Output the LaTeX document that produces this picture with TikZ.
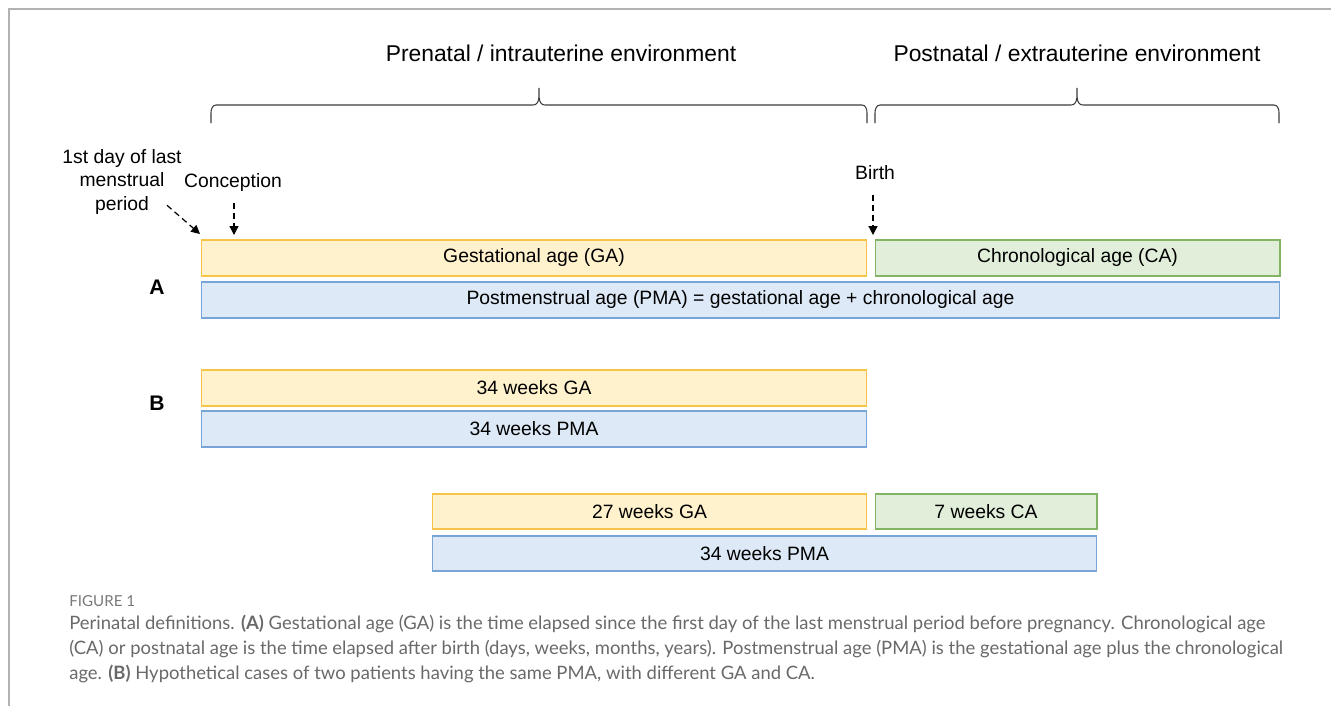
\documentclass[tikz,border=0pt]{standalone}
\usepackage{fontspec}
\setmainfont{Liberation Sans}
\newfontfamily\capfont{Lato}
\usetikzlibrary{arrows.meta, positioning}
\definecolor{gafill}{RGB}{255,242,204}
\definecolor{gadraw}{RGB}{246,196,70}
\definecolor{cafill}{RGB}{225,238,218}
\definecolor{cadraw}{RGB}{130,180,100}
\definecolor{pmafill}{RGB}{221,233,246}
\definecolor{pmadraw}{RGB}{120,164,214}
\definecolor{framegray}{RGB}{178,178,178}
\definecolor{capgray}{RGB}{105,105,105}
\definecolor{bracegray}{RGB}{60,60,60}
\tikzset{
  agebox/.style={rectangle, inner sep=0pt, outer sep=0pt,
    minimum height=0.72cm, line width=0.6pt,
    font=\fontsize{11}{13}\selectfont},
  gabox/.style={agebox, draw=gadraw, fill=gafill},
  cabox/.style={agebox, draw=cadraw, fill=cafill},
  pmabox/.style={agebox, draw=pmadraw, fill=pmafill},
  label/.style={font=\fontsize{11}{13.6}\selectfont, align=center, inner sep=0pt},
  envtitle/.style={font=\fontsize{13}{15}\selectfont, inner sep=0pt},
  caselabel/.style={font=\fontsize{12}{14}\selectfont\bfseries, inner sep=0pt},
  dasharrow/.style={-{Triangle[length=5pt,width=5pt]}, dash pattern=on 3.4pt off 2.3pt, line width=0.7pt},
  envbrace/.style={line width=0.6pt, color=bracegray}
}
% curly brace: left end, tip, right end (x), ends at y=123
\newcommand\envbrace[3]{%
  \draw[envbrace] (#1,123) -- (#1,113) to[out=90,in=180] ({#1+5},105)
    -- ({#2-6},105) to[out=0,in=-90] (#2,88) to[out=-90,in=180] ({#2+6},105)
    -- ({#3-5},105) to[out=0,in=90] (#3,113) -- (#3,123);}

\begin{document}
\begin{tikzpicture}[x=0.02cm, y=-0.02cm]
  \useasboundingbox (0,0) rectangle (1331,706);
  \draw[framegray, line width=0.9pt] (9,706) -- (9,9) -- (1331,9);

  % environments
  \node[envtitle] (pre) at (561,53) {Prenatal / intrauterine environment};
  \node[envtitle] (post) at (1077,53) {Postnatal / extrauterine environment};
  \envbrace{211}{539}{867}
  \envbrace{875}{1077}{1279}

  % (A)
  \node[caselabel] (lbla) at (157,287) {A};
  \node[gabox, minimum width=13.32cm] (gaa) at (534,258) {Gestational age (GA)};
  \node[cabox, minimum width=8.10cm] (caa) at (1077.5,258) {Chronological age (CA)};
  \node[pmabox, minimum width=21.58cm] (pmaa) at (740.5,300)
    {Postmenstrual age (PMA) = gestational age + chronological age};

  \node[label] (lmp) at (122,182) {1st day of last\\menstrual\\period};
  \node[label] (conc) at (233,183) {Conception};
  \node[label] (birth) at (875,173) {Birth};
  \coordinate (lmpend) at (200,234);
  \draw[dasharrow] ([xshift=-0.3cm, yshift=0.2cm]lmp.south east) -- (lmpend);
  \draw[dasharrow] ([xshift=0.02cm, yshift=-0.22cm]conc.south) -- ([xshift=0.02cm, yshift=0.1cm]conc.south |- gaa.north);
  \draw[dasharrow] ([xshift=-0.04cm, yshift=-0.3cm]birth.south) -- ([xshift=-0.04cm, yshift=0.1cm]birth.south |- gaa.north);

  % (B)
  \node[caselabel] (lblb) at (157,403) {B};
  \node[gabox, minimum width=13.32cm] (gab) at (534,388) {34 weeks GA};
  \node[pmabox, minimum width=13.32cm] (pmab) at (534,429) {34 weeks PMA};

  \node[gabox, minimum width=8.70cm, minimum height=0.70cm] (gac) at (649.5,511.5) {27 weeks GA};
  \node[cabox, minimum width=4.44cm, minimum height=0.70cm] (cac) at (986,511.5) {7 weeks CA};
  \node[pmabox, minimum width=13.30cm, minimum height=0.70cm] (pmac) at (764.5,553.5) {34 weeks PMA};

  % caption
  \node[anchor=west, inner sep=0pt, text=capgray!90, font=\capfont\fontsize{8.6}{10}\selectfont] (fig) at (69,601) {FIGURE 1};
  \node[anchor=north west, inner sep=0pt, align=left, text=capgray,
    font=\capfont\fontsize{10.5}{14}\selectfont] (capt) at (69,615)
    {Perinatal definitions. \textbf{(A)} Gestational age (GA) is the time elapsed since the first day of the last menstrual period before pregnancy. Chronological age\\
     (CA) or postnatal age is the time elapsed after birth (days, weeks, months, years). Postmenstrual age (PMA) is the gestational age plus the chronological\\
     age. \textbf{(B)} Hypothetical cases of two patients having the same PMA, with different GA and CA.};
\end{tikzpicture}
\end{document}
